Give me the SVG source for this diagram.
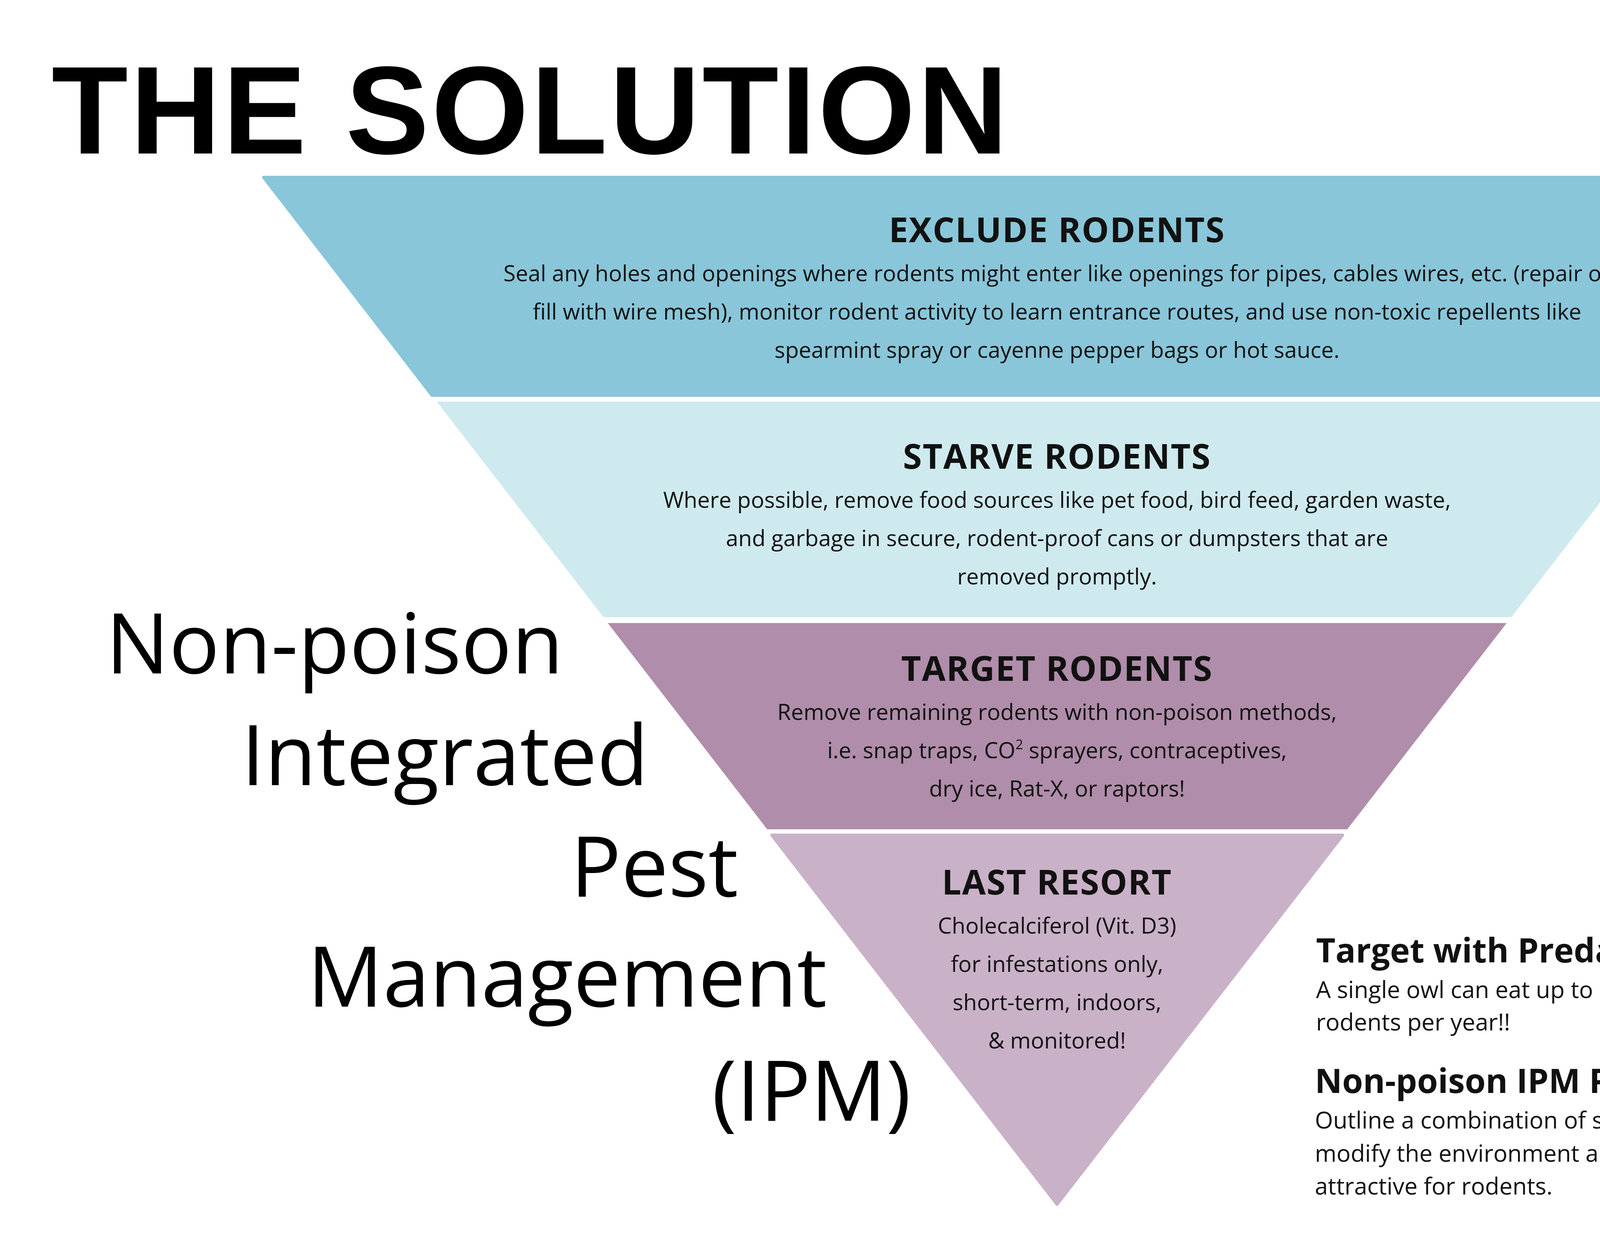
<svg xmlns="http://www.w3.org/2000/svg" width="4786" height="3200" viewBox="0 0 4786 3200">
<style>
.h{font-family:"Open Sans","Lato",sans-serif;font-weight:bold;font-size:88px;fill:#111;text-anchor:middle;letter-spacing:2px}
.b{font-family:"Open Sans","Lato",sans-serif;font-size:57px;fill:#111;text-anchor:middle}
.big{font-family:"Open Sans","Lato",sans-serif;font-size:215px;fill:#000;text-anchor:end}
.rh{font-family:"Open Sans","Lato",sans-serif;font-weight:bold;font-size:86px;fill:#111}
.rb{font-family:"Open Sans","Lato",sans-serif;font-size:60px;fill:#111}
</style>
<rect width="4786" height="3200" fill="#fff"/>
<text x="132" y="393" font-family="'Liberation Sans',Arial,sans-serif" font-weight="bold" font-size="320" fill="#000" letter-spacing="6">THE SOLUTION</text>
<g id="exclude">
<polygon points="675,454 4740,454 4308,1012 1106,1012" fill="#89C6D9" stroke="#89C6D9" stroke-width="8" stroke-linejoin="round"/>
<text class="h" x="2706" y="620">EXCLUDE RODENTS</text>
<text class="b" x="2706" y="720">Seal any holes and openings where rodents might enter like openings for pipes, cables wires, etc. (repair or</text>
<text class="b" x="2706" y="818">fill with wire mesh), monitor rodent activity to learn entrance routes, and use non-toxic repellents like</text>
<text class="b" x="2706" y="916">spearmint spray or cayenne pepper bags or hot sauce.</text>
</g>
<g id="starve">
<polygon points="1118,1028 4296,1028 3869,1580 1545,1580" fill="#CEEAEF"/>
<text class="h" x="2706" y="1200">STARVE RODENTS</text>
<text class="b" x="2706" y="1300">Where possible, remove food sources like pet food, bird feed, garden waste,</text>
<text class="b" x="2706" y="1398">and garbage in secure, rodent-proof cans or dumpsters that are</text>
<text class="b" x="2706" y="1496">removed promptly.</text>
</g>
<g id="target">
<polygon points="1556,1595 3857,1595 3449,2123 1964,2123" fill="#B08DAA"/>
<text class="h" x="2706" y="1743">TARGET RODENTS</text>
<text class="b" x="2706" y="1843">Remove remaining rodents with non-poison methods,</text>
<text class="b" x="2706" y="1941">i.e. snap traps, CO<tspan font-size="34" baseline-shift="super">2</tspan> sprayers, contraceptives,</text>
<text class="b" x="2706" y="2039">dry ice, Rat-X, or raptors!</text>
</g>
<g id="last">
<polygon points="1976,2138 3437,2138 2706,3083" fill="#C9B1C8" stroke="#C9B1C8" stroke-width="8" stroke-linejoin="round"/>
<text class="h" x="2706" y="2290">LAST RESORT</text>
<text class="b" x="2706" y="2390">Cholecalciferol (Vit. D3)</text>
<text class="b" x="2706" y="2488">for infestations only,</text>
<text class="b" x="2706" y="2586">short-term, indoors,</text>
<text class="b" x="2706" y="2684">&amp; monitored!</text>
</g>
<g id="ipm">
<text class="big" x="1442" y="1724">Non-poison</text>
<text class="big" x="1660" y="2010">Integrated</text>
<text class="big" x="1890" y="2295">Pest</text>
<text class="big" x="2117" y="2577">Management</text>
<text class="big" x="2332" y="2869">(IPM)</text>
</g>
<g id="predators">
<text class="rh" x="3369" y="2464">Target with Predators!</text>
<text class="rb" x="3369" y="2555">A single owl can eat up to 1,500</text>
<text class="rb" x="3369" y="2638">rodents per year!!</text>
</g>
<g id="plans">
<text class="rh" x="3366" y="2798">Non-poison IPM Plans</text>
<text class="rb" x="3366" y="2889">Outline a combination of strategies that</text>
<text class="rb" x="3366" y="2974">modify the environment and make it less</text>
<text class="rb" x="3366" y="3058">attractive for rodents.</text>
</g>
<g id="connectors"/>
</svg>
